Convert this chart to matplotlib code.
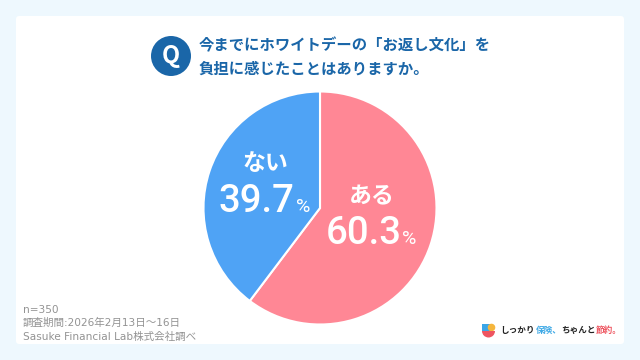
import matplotlib
matplotlib.use("Agg")
import matplotlib.pyplot as plt
from matplotlib.patches import Circle, FancyBboxPatch, Rectangle, Wedge

plt.rcParams['font.family'] = ['Noto Sans CJK JP', 'DejaVu Sans']

categories = ["ある", "ない"]
values = [60.3, 39.7]
colors = ["#FF8795", "#4FA3F5"]
title_lines = ["今までにホワイトデーの「お返し文化」を", "負担に感じたことはありますか。"]
notes = ["n=350", "調査期間:2026年2月13日〜16日", "Sasuke Financial Lab株式会社調べ"]

fig = plt.figure(figsize=(6.4, 3.6), dpi=100, facecolor="#EEF8FE")
bg = fig.add_axes([0, 0, 1, 1])
bg.set_xlim(0, 640); bg.set_ylim(360, 0); bg.axis("off")
bg.add_patch(FancyBboxPatch((16, 16), 608, 328, boxstyle="round,pad=0,rounding_size=3",
                            fc="white", ec="none"))

# question badge and title
blue = "#1A66A8"
bg.add_patch(Circle((171, 56), 20, fc=blue, ec="none"))
bg.text(171, 55.5, "Q", color="white", fontsize=17, fontweight="bold", ha="center", va="center")
bg.text(199, 45, title_lines[0], color=blue, fontsize=11.05, fontweight="bold", va="center", ha="left")
bg.text(199, 69, title_lines[1], color=blue, fontsize=11.05, fontweight="bold", va="center", ha="left")

# pie: centre (320,208), radius 116.5 px
ax = fig.add_axes([(320 - 118) / 640, 1 - (208 + 118) / 360, 236 / 640, 236 / 360])
ax.pie(values, colors=colors, startangle=90, counterclock=False, radius=1,
       wedgeprops=dict(edgecolor="white", linewidth=1.5))
ax.set_xlim(-118 / 116.5, 118 / 116.5); ax.set_ylim(-118 / 116.5, 118 / 116.5)
ax.set_aspect("equal")

top = fig.add_axes([0, 0, 1, 1])
top.set_xlim(0, 640); top.set_ylim(360, 0); top.axis("off"); top.patch.set_alpha(0)

def label(x_name, y_name, x_val, y_val, x_pct, y_pct, name, value):
    top.text(x_name, y_name, name, color="white", fontsize=16.5, fontweight="bold", ha="center", va="center")
    top.text(x_val, y_val, f"{value}", color="white", fontsize=27.5, fontweight="medium",
             family="Roboto", ha="left", va="center")
    top.text(x_pct, y_pct, "%", color="white", fontsize=14, family="Roboto", ha="left", va="center")

label(265, 164, 218, 202, 296, 207, categories[1], values[1])
label(372, 197, 326, 233.5, 402, 239, categories[0], values[0])

# notes
for y, line in zip([310, 323, 337], notes):
    top.text(23, y, line, color="#939393", fontsize=7.6, va="center", ha="left",
             family=["DejaVu Sans", "Noto Sans CJK JP"])

# brand mark
top.add_patch(Rectangle((482, 324), 8.5, 7, fc="#3AA6E8", ec="none"))
top.add_patch(Circle((491.5, 327.5), 3.8, fc="#F5B63D", ec="none"))
top.add_patch(Wedge((488.5, 331), 6.5, 0, 180, fc="#EE5560", ec="none"))
parts = [("しっかり", "#222222", 500), ("保険、", "#3FA9E6", 535.5), ("ちゃんと", "#222222", 561.5), ("節約。", "#EE5560", 596)]
for s, c, x in parts:
    top.text(x, 330, s, color=c, fontsize=6.2, fontweight="bold", va="center", ha="left")

fig.savefig("out.png", dpi=100, facecolor=fig.get_facecolor())
